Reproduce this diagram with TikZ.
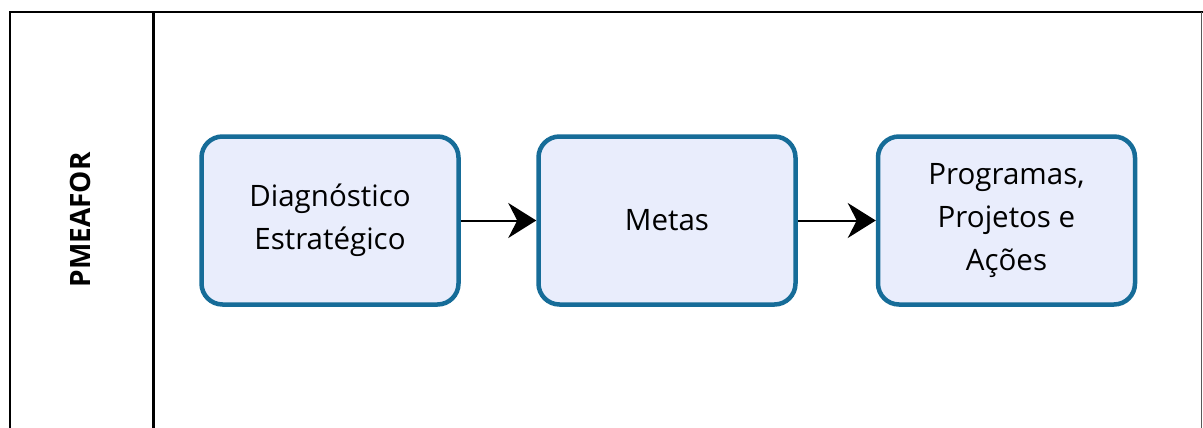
\documentclass[tikz,border=0pt]{standalone}
\usepackage{fontspec}
\setmainfont{Open Sans}
\usetikzlibrary{arrows.meta}
\definecolor{taskline}{RGB}{22,108,152}
\definecolor{taskfill}{RGB}{233,237,252}
\begin{document}
\begin{tikzpicture}[x=1pt,y=-1pt,
  task/.style={draw=taskline, fill=taskfill, line width=4.5pt, rounded corners=21pt,
    minimum width=257pt, minimum height=168pt, inner sep=0pt, align=center,
    font=\fontsize{29.5}{43}\selectfont},
  flow/.style={line width=2pt, -{Stealth[length=28pt,width=35pt,inset=9pt]}},
  lane/.style={line width=2.8pt, black}]
\useasboundingbox (0,0) rectangle (1203,428);
\begin{scope}
\clip (0,0) rectangle (1203,428);
% pool frame and lane header
\draw[lane] (10,440) -- (10,12) -- (1203,12);
\draw[lane, line width=3pt] (153,12) -- (153,440);
\draw[line width=1.6pt, black!65] (1201.5,12) -- (1201.5,440);
\end{scope}
\node[rotate=90, font=\fontsize{28}{32}\selectfont\bfseries] (pool) at (80,220) {PMEAFOR};
% tasks
\node[task] (diag) at (330,220.5) {Diagnóstico\\Estratégico};
\node[task] (metas) at (667,220.5) {Metas};
\node[task] (prog) at (1006.5,220.5) {Programas,\\Projetos e\\Ações};
% sequence flows
\draw[flow] (diag) -- (metas);
\draw[flow] (metas) -- (prog);
\end{tikzpicture}
\end{document}
